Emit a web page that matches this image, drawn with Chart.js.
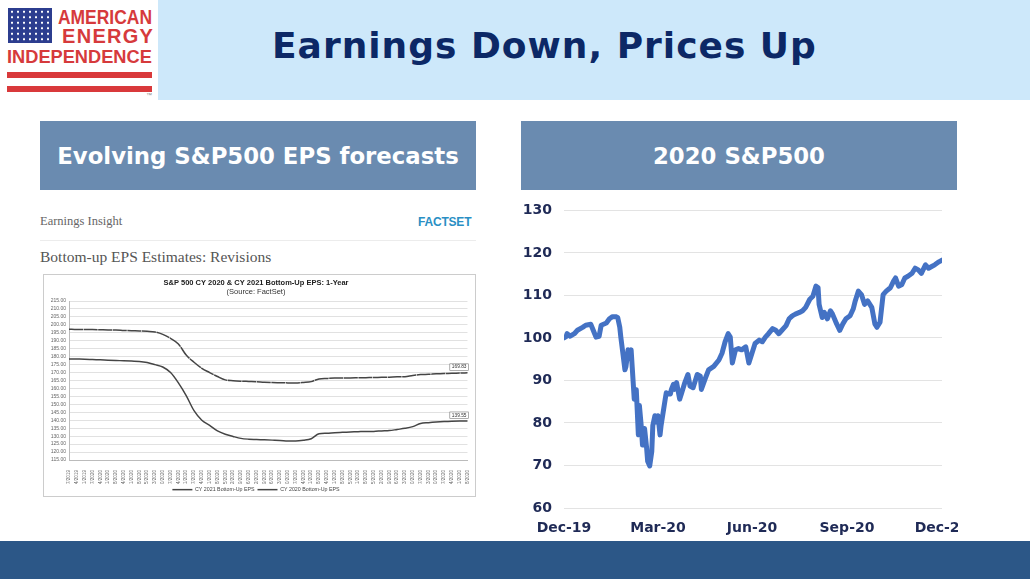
<!DOCTYPE html>
<html>
<head>
<meta charset="utf-8">
<script src="https://cdn.jsdelivr.net/npm/chart.js@4.4.1/dist/chart.umd.min.js"></script>
<style>
html, body { margin: 0; padding: 0; }
body { width: 1030px; height: 579px; overflow: hidden; background: #fff; position: relative; font-family: "DejaVu Sans", sans-serif; }
.abs { position: absolute; white-space: nowrap; }

/* logo */
#flag { left: 8px; top: 8px; width: 44px; height: 35px;
  background: radial-gradient(circle, #fff 1px, transparent 1.5px) 1px 1px / 6px 5.5px, #2c3d8f; }
.logo { font-family: "Liberation Sans", sans-serif; font-weight: bold; color: #d63a3c; line-height: 1; transform-origin: left top; }
#l1 { left: 58px; top: 6.7px; font-size: 20px; transform: scaleX(0.872); }
#l2 { left: 62px; top: 26.4px; font-size: 20px; letter-spacing: 1.3px; }
#l3 { left: 7px; top: 47.6px; font-size: 18.5px; transform: scaleX(0.985); }
.stripe { left: 7px; width: 145px; height: 6px; background: #d9393b; }
#tm { left: 146px; top: 92px; font: 6px "Liberation Sans"; color: #888; }

/* header */
#band { left: 158px; top: 0; width: 872px; height: 100px; background: #cde8fa; }
#title { left: 272px; top: 24px; font: bold 36px "DejaVu Sans"; letter-spacing: 1px; color: #0c2866; line-height: 1.2; }

/* sub headers */
.sub { top: 121px; width: 436px; height: 69px; background: #6a8bb0; color: #fff;
  font: bold 22.8px "DejaVu Sans"; display: flex; align-items: center; justify-content: center; }
#sub1 { left: 40px; }
#sub2 { left: 521px; }

/* left panel */
#ins { left: 40px; top: 214px; font: 12.5px "Liberation Serif", serif; color: #666; }
#fs { left: 418px; top: 215px; font: bold 12px "Liberation Sans"; color: #2a8fc4; letter-spacing: -0.2px; }
#rule { left: 40px; top: 240px; width: 436px; height: 1px; background: #ececec; }
#rev { left: 40px; top: 248px; font: 15.5px "Liberation Serif", serif; color: #555; }
#frame { left: 43px; top: 274px; width: 433px; height: 223px; border: 1px solid #cccccc; box-sizing: border-box; }
#eps { position: absolute; left: 0; top: 0; }

/* right panel */
#spxWrap { left: 505px; top: 190px; width: 453px; height: 350px; overflow: hidden; }

#foot { left: 0; top: 541px; width: 1030px; height: 38px; background: #2c5787; }
</style>
</head>
<body>
<div class="abs" id="flag"></div>
<div class="abs logo" id="l1">AMERICAN</div>
<div class="abs logo" id="l2">ENERGY</div>
<div class="abs logo" id="l3">INDEPENDENCE</div>
<div class="abs stripe" style="top:72px"></div>
<div class="abs stripe" style="top:86px"></div>
<div class="abs" id="tm">™</div>

<div class="abs" id="band"></div>
<div class="abs" id="title">Earnings Down, Prices Up</div>

<div class="abs sub" id="sub1">Evolving S&amp;P500 EPS forecasts</div>
<div class="abs sub" id="sub2">2020 S&amp;P500</div>

<div class="abs" id="ins">Earnings Insight</div>
<div class="abs" id="fs">FACTSET</div>
<div class="abs" id="rule"></div>
<div class="abs" id="rev">Bottom-up EPS Estimates: Revisions</div>
<div class="abs" id="frame"><canvas id="eps" width="431" height="221"></canvas></div>

<div class="abs" id="spxWrap"><canvas id="spx" width="453" height="350"></canvas></div>

<div class="abs" id="foot"></div>

<script>
// EPS FORECASTS (weekly)
// =================================================
const epsDates = [
  '12/17/2019', '12/24/2019', '12/31/2019', '01/07/2020', '01/14/2020', '01/21/2020', '01/28/2020',
  '02/04/2020', '02/11/2020', '02/18/2020', '02/25/2020', '03/03/2020', '03/10/2020', '03/17/2020',
  '03/24/2020', '03/31/2020', '04/07/2020', '04/14/2020', '04/21/2020', '04/28/2020', '05/05/2020',
  '05/12/2020', '05/19/2020', '05/26/2020', '06/02/2020', '06/09/2020', '06/16/2020', '06/23/2020',
  '06/30/2020', '07/07/2020', '07/14/2020', '07/21/2020', '07/28/2020', '08/04/2020', '08/11/2020',
  '08/18/2020', '08/25/2020', '09/01/2020', '09/08/2020', '09/15/2020', '09/22/2020', '09/29/2020',
  '10/06/2020', '10/13/2020', '10/20/2020', '10/27/2020', '11/03/2020', '11/10/2020', '11/17/2020',
  '11/24/2020', '12/01/2020', '12/08/2020'
];
const cy2021Eps = [
  197.3, 197.1, 197.0, 197.0, 196.9, 196.8, 196.8, 196.5, 196.3, 196.2, 195.9, 195.5, 194.0, 191.5,
  188.0, 181.0, 176.5, 172.7, 170.0, 167.5, 165.4, 164.9, 164.6, 164.4, 164.2, 163.9, 163.7, 163.6,
  163.5, 163.5, 163.8, 164.3, 166.0, 166.3, 166.5, 166.6, 166.6, 166.7, 166.8, 166.9, 167.0, 167.1,
  167.3, 167.4, 168.2, 168.7, 168.9, 169.2, 169.4, 169.5, 169.7, 169.83
];
const cy2020Eps = [
  178.6, 178.5, 178.4, 178.2, 178.0, 177.8, 177.6, 177.4, 177.2, 177.0, 176.3, 175.0, 173.5, 170.0,
  163.5, 155.5, 146.0, 140.0, 136.8, 133.3, 131.2, 129.8, 128.6, 128.1, 127.9, 127.7, 127.5, 127.3,
  127.0, 126.9, 127.4, 128.4, 131.5, 131.8, 132.2, 132.4, 132.6, 132.8, 133.0, 133.0, 133.3, 133.5,
  134.2, 134.9, 136.0, 138.0, 138.5, 138.9, 139.2, 139.4, 139.5, 139.55
];

// 2020 S&P500 (index, Dec-19 = 100; x = days since 31 Dec 2019)
// ============================================================
const spxDays = [
  0, 2, 3, 6, 10, 13, 18, 21, 26, 29, 31, 34, 36, 41, 44, 47, 50, 52, 54, 55, 57, 59, 60, 62, 63, 65,
  67, 68, 70, 72, 73, 75, 76, 78, 80, 81, 83, 85, 86, 88, 90, 91, 93, 94, 96, 98, 99, 103, 104, 106,
  107, 109, 112, 114, 117, 120, 122, 125, 129, 132, 133, 137, 140, 145, 150, 153, 156, 159, 161, 163,
  166, 169, 172, 176, 179, 182, 185, 189, 192, 195, 198, 202, 205, 208, 211, 215, 218, 221, 224, 228,
  231, 234, 238, 241, 244, 246, 247, 250, 252, 255, 258, 260, 264, 267, 270, 273, 277, 280, 282, 285,
  288, 291, 294, 298, 301, 303, 306, 309, 312, 316, 319, 321, 324, 327, 330, 333, 337, 340, 343, 346,
  350, 353, 356, 359, 363, 366
];
const spxValues = [
  100, 100.3, 101, 100.4, 101, 101.8, 102.5, 103, 103.2, 101.4, 100.2, 100.4, 103, 103.5, 104.5, 105,
  105, 104.8, 102.5, 100.2, 96.4, 92.5, 93.3, 97.2, 95.6, 97.2, 89.5, 85.6, 87.8, 77.2, 84.1, 78.7,
  74.8, 78.7, 74.1, 71, 69.9, 73.3, 79.4, 81.7, 80.2, 81.7, 77.2, 79.4, 82.5, 85.6, 87.1, 86.8, 87.9,
  89.1, 87.9, 89.5, 85.6, 87.1, 89.5, 91.4, 88.7, 88.3, 91.4, 91.0, 87.9, 90.6, 92.5, 93.3, 94.8, 96.4,
  99.1, 101, 100.2, 94.1, 97.2, 97.5, 97.2, 97.9, 94.1, 96.4, 98.7, 99.5, 99.1, 100.2, 101, 102.2,
  101.8, 101, 101.8, 102.9, 104.5, 105.2, 105.6, 106, 106.4, 107.2, 109.1, 109.8, 112.2, 111.8, 107.9,
  104.8, 106, 104.5, 106.4, 105.6, 103.3, 101.8, 103.3, 104.5, 105.2, 106.8, 108.7, 111, 110.2, 107.9,
  108.7, 107.2, 103.3, 102.5, 103.7, 110.2, 111, 111.8, 113.3, 114.1, 112.2, 112.5, 114.1, 114.5,
  115.2, 116.4, 116, 115.2, 117.2, 116.4, 116.8, 117.2, 117.9, 118.3
];
const spxTickDays = [0, 91, 182, 274, 366];
const spxTickLabels = ['Dec-19', 'Mar-20', 'Jun-20', 'Sep-20', 'Dec-20'];

Chart.defaults.font.family = '"Liberation Sans", Arial, sans-serif';

// boxed value at the end of each EPS line
const endLabels = {
  id: 'endLabels',
  afterDatasetsDraw(chart) {
    const ctx = chart.ctx;
    ctx.save();
    ctx.font = '4.8px "Liberation Sans"';
    chart.data.datasets.forEach((ds, i) => {
      const meta = chart.getDatasetMeta(i);
      const pt = meta.data[meta.data.length - 1];
      const txt = ds.data[ds.data.length - 1].toFixed(2);
      const w = ctx.measureText(txt).width + 4;
      const h = 6.5;
      const x = pt.x + 1 - w;
      const y = pt.y - 2.5 - h;
      ctx.fillStyle = '#fff';
      ctx.fillRect(x, y, w, h);
      ctx.strokeStyle = '#777';
      ctx.lineWidth = 0.6;
      ctx.strokeRect(x, y, w, h);
      ctx.fillStyle = '#333';
      ctx.textBaseline = 'middle';
      ctx.fillText(txt, x + 2, y + h / 2);
    });
    ctx.restore();
  }
};

new Chart(document.getElementById('eps'), {
  type: 'line',
  data: {
    labels: epsDates,
    datasets: [
      {
        label: 'CY 2021 Bottom-Up EPS',
        data: cy2021Eps,
        borderColor: '#454545',
        borderWidth: 1.5,
        borderDash: [14, 0.6],
        pointRadius: 0,
        cubicInterpolationMode: 'monotone',
      },
      {
        label: 'CY 2020 Bottom-Up EPS',
        data: cy2020Eps,
        borderColor: '#454545',
        borderWidth: 1.5,
        pointRadius: 0,
        cubicInterpolationMode: 'monotone',
      },
    ],
  },
  options: {
    responsive: false,
    animation: false,
    layout: { padding: { left: 0, right: 7, top: 0, bottom: 0 } },
    plugins: {
      title: {
        display: true,
        text: 'S&P 500 CY 2020 & CY 2021 Bottom-Up EPS: 1-Year',
        color: '#222',
        font: { size: 7.5, weight: 'bold' },
        padding: { top: 3, bottom: 0 },
      },
      subtitle: {
        display: true,
        text: '(Source: FactSet)',
        color: '#333',
        font: { size: 7.5 },
        padding: { top: 0, bottom: 5 },
      },
      legend: {
        position: 'bottom',
        maxHeight: 12,
        labels: {
          usePointStyle: true,
          pointStyle: 'line',
          pointStyleWidth: 20,
          boxHeight: 5,
          padding: 3,
          color: '#444',
          font: { size: 5.3 },
        },
      },
      tooltip: { enabled: false },
    },
    scales: {
      x: {
        grid: { display: false },
        border: { color: '#bbb' },
        ticks: { autoSkip: false, minRotation: 90, maxRotation: 90, padding: 2, color: '#666', font: { size: 4.6 } },
        afterFit: (s) => { s.height = 24; },
      },
      y: {
        min: 115,
        max: 215,
        grid: { color: '#d9d9d9', lineWidth: 0.8, drawTicks: false },
        border: { color: '#bbb' },
        ticks: { stepSize: 5, autoSkip: false, padding: 3, color: '#666', font: { size: 5 }, callback: (v) => v.toFixed(2) },
        afterFit: (s) => { s.width = 25; },
      },
    },
  },
  plugins: [endLabels],
});

const axisFont = { family: '"DejaVu Sans", Verdana, sans-serif', size: 14, weight: 'bold' };

new Chart(document.getElementById('spx'), {
  type: 'line',
  data: {
    datasets: [{
      data: spxDays.map((d, i) => ({ x: d, y: spxValues[i] })),
      borderColor: '#4472c4',
      borderWidth: 5,
      borderJoinStyle: 'round',
      borderCapStyle: 'round',
      pointRadius: 0,
      tension: 0,
    }],
  },
  options: {
    responsive: false,
    animation: false,
    layout: { padding: { top: 14, right: 16, left: 0, bottom: 0 } },
    plugins: { legend: { display: false }, tooltip: { enabled: false } },
    scales: {
      x: {
        type: 'linear',
        min: 0,
        max: 366,
        grid: { display: false },
        border: { display: false },
        afterBuildTicks: (s) => { s.ticks = spxTickDays.map((v) => ({ value: v })); },
        afterFit: (s) => { s.height = 32; s.paddingLeft = 0; s.paddingRight = 0; },
        ticks: {
          autoSkip: false,
          maxRotation: 0,
          padding: 4,
          color: '#1f2a56',
          font: axisFont,
          callback: (v) => spxTickLabels[spxTickDays.indexOf(v)],
        },
      },
      y: {
        min: 60,
        max: 130,
        grid: { color: '#e3e3e3', drawTicks: false },
        border: { display: false },
        ticks: { stepSize: 10, padding: 12, color: '#1f2a56', font: axisFont },
        afterFit: (s) => { s.width = 59; },
      },
    },
  },
});
</script>
</body>
</html>
